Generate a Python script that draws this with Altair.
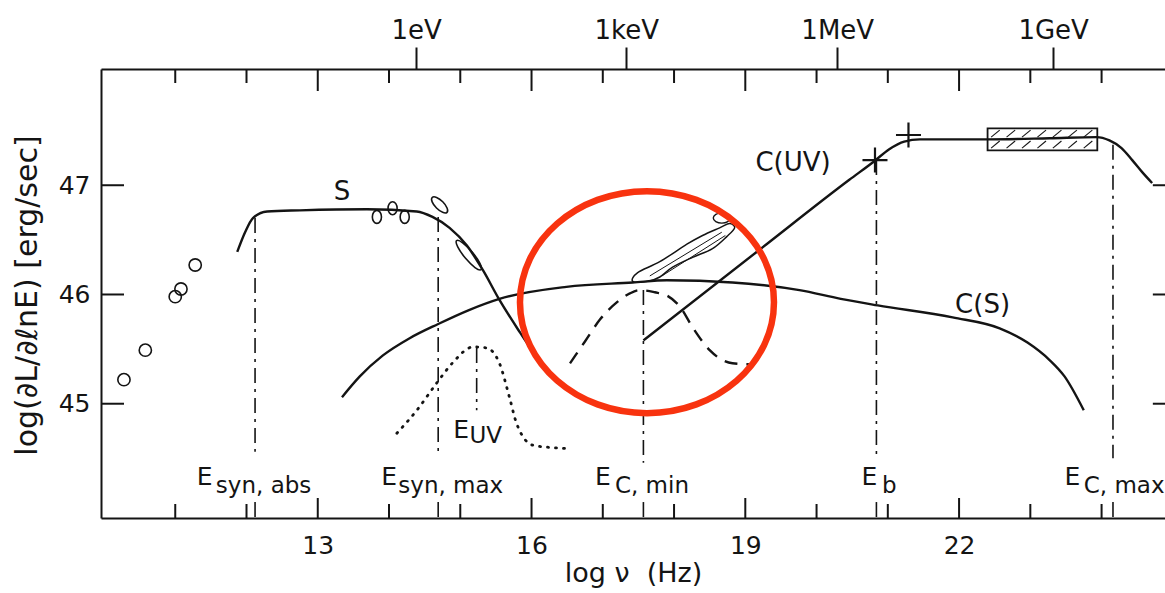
import altair as alt
import numpy as np
import pandas as pd

FONT = "DejaVu Sans"
INK = "#141414"
RED = "#f8330f"

# ---------------- data ----------------
X_DOMAIN = [9.958, 24.89]          # log nu (Hz)
Y_DOMAIN = [43.954, 48.064]        # log(dL/dlnE)

BOTTOM_LABELS = [13, 16, 19, 22]
MINOR_TICKS = [11, 12, 14, 15, 17, 18, 20, 21, 23, 24]
Y_LABELS = [45, 46, 47]
ENERGY_POS = [14.38, 17.33, 20.29, 23.32]
ENERGY_TXT = ["1eV", "1keV", "1MeV", "1GeV"]
RIGHT_EDGE = 25

# synchrotron component S
S_X = [11.87, 11.98, 12.09, 12.29, 12.75, 13.69, 14.39, 14.61, 14.85, 15.09, 15.32, 15.55, 15.84, 16.16]
S_Y = [46.39, 46.57, 46.70, 46.76, 46.77, 46.78, 46.76, 46.71, 46.61, 46.45, 46.22, 45.95, 45.65, 45.34]

# Compton of synchrotron C(S)
CS_X = [13.34, 13.59, 13.91, 14.29, 14.69, 15.13, 15.55, 16.49, 17.42, 17.90, 18.82, 19.76,
        20.34, 20.86, 21.91, 22.57, 22.96, 23.27, 23.48, 23.75]
CS_Y = [45.06, 45.25, 45.44, 45.60, 45.73, 45.86, 45.96, 46.07, 46.11, 46.13, 46.11, 46.04,
        45.96, 45.90, 45.79, 45.69, 45.56, 45.40, 45.25, 44.94]

# Compton of UV C(UV)
CUV_X = [17.57, 19.20, 20.46, 20.81, 21.02, 21.23, 21.45, 21.87, 22.40, 23.27, 23.93, 24.11,
         24.28, 24.43, 24.57, 24.71]
CUV_Y = [45.58, 46.41, 47.05, 47.22, 47.33, 47.40, 47.42, 47.42, 47.42, 47.43, 47.44, 47.41,
         47.34, 47.23, 47.12, 47.02]

# dotted UV bump
EUV_X = [14.11, 14.39, 14.67, 14.90, 15.18, 15.37, 15.55, 15.69, 15.79, 16.02, 16.26, 16.49]
EUV_Y = [44.73, 44.94, 45.19, 45.38, 45.52, 45.51, 45.37, 45.06, 44.82, 44.62, 44.60, 44.59]

# dashed bump near E_C,min
DASH_X = [16.54, 16.75, 16.96, 17.20, 17.38, 17.52, 17.73, 17.90, 18.08, 18.26, 18.50, 18.82, 19.09]
DASH_Y = [45.37, 45.57, 45.77, 45.93, 46.01, 46.04, 46.02, 45.99, 45.89, 45.70, 45.49, 45.37, 45.36]

# observed data blobs
RADIO_X = [10.28, 10.58, 11.00, 11.08, 11.28]
RADIO_Y = [45.22, 45.49, 45.98, 46.05, 46.27]
OPT_X = [13.83, 14.05, 14.22]
OPT_Y = [46.71, 46.79, 46.71]
TILT_X = [14.71]
TILT_Y = [46.82]
UVB_X = [15.12]
UVB_Y = [46.36]
XSMALL_X = [18.67]
XSMALL_Y = [46.70]

# X-ray bow-tie outline and its inner hatch
XRAY_X = [17.42, 17.49, 17.80, 18.18, 18.40, 18.64, 18.78, 18.85, 18.74, 18.54, 18.26, 17.98, 17.80, 17.63]
XRAY_Y = [46.12, 46.20, 46.30, 46.46, 46.54, 46.61, 46.65, 46.61, 46.53, 46.42, 46.34, 46.25, 46.16, 46.12]
XRAY_IN_X = [17.66, 17.83]
XRAY_IN_X2 = [18.67, 18.72]
XRAY_IN_Y = [46.17, 46.17]
XRAY_IN_Y2 = [46.57, 46.54]

# gamma-ray points and box
CROSS_X = [20.82, 21.29]
CROSS_Y = [47.23, 47.46]
BOX_X = [22.40, 23.94]
BOX_Y = [47.32, 47.52]

# characteristic energies (dash-dot markers)
MARK_X = [12.12, 14.69, 15.23, 17.57, 20.84, 24.16]
MARK_TOP = [46.70, 46.71, 45.51, 46.04, 47.23, 47.37]
MARK_BOT = [44.56, 44.53, 44.94, 44.46, 44.51, 44.50]
STUB_X = [12.12, 14.69, 17.57, 20.84, 24.16]
STUB_TOP = [44.10, 44.10, 44.10, 44.10, 44.10]

E_X = [11.30, 13.89, 14.90, 16.89, 20.63, 23.48]
E_Y = [44.26, 44.26, 44.69, 44.26, 44.26, 44.26]
SUB_TXT = ["syn, abs", "syn, max", "UV", "C, min", "b", "C, max"]
SUB_X = [11.57, 14.13, 15.13, 17.17, 20.92, 23.75]
SUB_Y = [44.18, 44.18, 44.64, 44.18, 44.18, 44.18]

CURVE_TXT = ["S", "C(UV)", "C(S)"]
CURVE_TX = [13.34, 19.67, 22.33]
CURVE_TY = [46.94, 47.20, 45.90]

RING_X = [17.62]
RING_Y = [45.93]

X_TITLE = "log \u03bd\u00a0\u00a0(Hz)"
Y_TITLE = "log(\u2202L/\u2202\u2113nE) [erg/sec]"

# ---------------- helpers ----------------
xsc = alt.Scale(domain=X_DOMAIN, nice=False, zero=False)
ysc = alt.Scale(domain=Y_DOMAIN, nice=False, zero=False)


def X(axis=None):
    return alt.X("x:Q", scale=xsc, axis=axis)


def Y(axis=None):
    return alt.Y("y:Q", scale=ysc, axis=axis)


def ellipse_path(b):
    k = 0.5523
    return (f"M-1,0C-1,{-k*b:.3f},{-k:.3f},{-b:.3f},0,{-b:.3f}"
            f"C{k:.3f},{-b:.3f},1,{-k*b:.3f},1,0"
            f"C1,{k*b:.3f},{k:.3f},{b:.3f},0,{b:.3f}"
            f"C{-k:.3f},{b:.3f},-1,{k*b:.3f},-1,0Z")


def frame(xs, ys, **extra):
    d = {"x": list(xs), "y": list(ys), "i": list(range(len(xs)))}
    d.update({k: list(v) for k, v in extra.items()})
    return pd.DataFrame(d)


def curve(xs, ys, xaxis=None, yaxis=None, **mark):
    style = dict(color=INK, strokeWidth=2.4, interpolate="monotone")
    style.update(mark)
    return alt.Chart(frame(xs, ys)).mark_line(**style).encode(
        x=X(xaxis), y=Y(yaxis), order=alt.Order("i:Q"))


def blobs(xs, ys, shape, size, angle=0, color=INK, width=1.6):
    return alt.Chart(frame(xs, ys)).mark_point(
        shape=shape, size=size, angle=angle, filled=False, stroke=color,
        strokeWidth=width, opacity=1).encode(x=X(), y=Y())


def ticks(xs, ys, orient, size, xoff=0, yoff=0):
    return alt.Chart(frame(xs, ys)).mark_tick(
        orient=orient, size=size, thickness=2, color=INK, opacity=1,
        xOffset=xoff, yOffset=yoff).encode(x=X(), y=Y())


def texts(xs, ys, labels, size, align="left", baseline="alphabetic"):
    return alt.Chart(frame(xs, ys, t=labels)).mark_text(
        font=FONT, fontSize=size, color=INK, align=align, baseline=baseline).encode(
        x=X(), y=Y(), text="t:N")


# ---------------- axes ----------------
bottom_axis = alt.Axis(
    orient="bottom", values=BOTTOM_LABELS, format="d", ticks=False, tickSize=0,
    domain=True, domainColor=INK, domainWidth=2, grid=False,
    labelFont=FONT, labelFontSize=25, labelColor=INK, labelPadding=15,
    labelOverlap=False, labelFlush=False,
    title=X_TITLE, titleFont=FONT, titleFontSize=27, titleFontWeight="normal",
    titleColor=INK, titleBaseline="alphabetic", titleY=63)

left_axis = alt.Axis(
    orient="left", values=Y_LABELS, format="d", ticks=False, tickSize=0,
    domain=True, domainColor=INK, domainWidth=2, grid=False,
    labelFont=FONT, labelFontSize=25, labelColor=INK, labelPadding=11,
    title=Y_TITLE, titleFont=FONT, titleFontSize=30, titleFontWeight="normal",
    titleColor=INK, titleAngle=270, titleBaseline="alphabetic", titleX=-65, titleY=226)

energy_expr = " : ".join(
    f"abs(datum.value - {p}) < 0.01 ? '{t}'" for p, t in zip(ENERGY_POS, ENERGY_TXT)) + " : ''"

top_axis = alt.Axis(
    orient="top", values=ENERGY_POS, labelExpr=energy_expr, ticks=True, tickSize=22,
    tickWidth=2, tickColor=INK, domain=True, domainColor=INK, domainWidth=2, grid=False,
    labelFont=FONT, labelFontSize=26, labelColor=INK, labelPadding=4,
    labelOverlap=False, labelFlush=False, title=None)

# ---------------- layers ----------------
layers = []
layers.append(curve(S_X, S_Y, xaxis=bottom_axis, yaxis=left_axis))
layers.append(curve(CS_X, CS_Y, xaxis=top_axis))
layers.append(curve(CUV_X, CUV_Y))
layers.append(curve(EUV_X, EUV_Y, strokeDash=[1, 7], strokeCap="round", strokeWidth=2.8))
layers.append(curve(DASH_X, DASH_Y, strokeDash=[13, 9]))

# dash-dot markers
markers = frame(MARK_X, MARK_TOP, y2=MARK_BOT)
stubs = frame(STUB_X, STUB_TOP, y2=[Y_DOMAIN[0]] * len(STUB_X))
for df in (markers, stubs):
    layers.append(alt.Chart(df).mark_rule(
        color=INK, strokeWidth=1.6, strokeDash=[15, 6, 3, 6]).encode(
        x=X(), y=Y(), y2="y2:Q"))

# axis ticks drawn inward
Y0, Y1 = Y_DOMAIN
layers.append(ticks(BOTTOM_LABELS, [Y0] * 4, "vertical", 20, yoff=-10))
layers.append(ticks(MINOR_TICKS, [Y0] * len(MINOR_TICKS), "vertical", 14, yoff=-7))
layers.append(ticks(BOTTOM_LABELS, [Y1] * 4, "vertical", 22, yoff=11))
layers.append(ticks(MINOR_TICKS, [Y1] * len(MINOR_TICKS), "vertical", 14, yoff=7))
layers.append(ticks([X_DOMAIN[0]] * 3, Y_LABELS, "horizontal", 23, xoff=11.5))
layers.append(ticks([RIGHT_EDGE] * 3, Y_LABELS, "horizontal", 20, xoff=-10))

# data blobs
layers.append(blobs(RADIO_X, RADIO_Y, "circle", 150))
layers.append(blobs(OPT_X, OPT_Y, ellipse_path(0.7), 169, angle=90))
layers.append(blobs(TILT_X, TILT_Y, ellipse_path(0.42), 441, angle=45))
layers.append(blobs(UVB_X, UVB_Y, ellipse_path(0.24), 1444, angle=50))
layers.append(blobs(XSMALL_X, XSMALL_Y, ellipse_path(0.6), 289, angle=0, width=1.4))
layers.append(curve(XRAY_X, XRAY_Y, interpolate="cardinal-closed", strokeWidth=1.5))
layers.append(alt.Chart(pd.DataFrame({"x": XRAY_IN_X, "x2": XRAY_IN_X2,
                                      "y": XRAY_IN_Y, "y2": XRAY_IN_Y2})).mark_rule(
    color=INK, strokeWidth=1).encode(x=X(), x2="x2:Q", y=Y(), y2="y2:Q"))

# gamma-ray crosses
layers.append(blobs(CROSS_X, CROSS_Y, "M-1,0L1,0M0,-1L0,1", 625, width=2.2))

# hatched box
layers.append(alt.Chart(pd.DataFrame({"x": [BOX_X[0]], "x2": [BOX_X[1]],
                                      "y": [BOX_Y[0]], "y2": [BOX_Y[1]]})).mark_rect(
    fillOpacity=0, stroke=INK, strokeWidth=1.8).encode(x=X(), x2="x2:Q", y=Y(), y2="y2:Q"))
h_start = np.linspace(BOX_X[0] + 0.05, BOX_X[1] - 0.19, 7)
h_dx = 0.12
h_rows = [(BOX_Y[0] + 0.02, BOX_Y[0] + 0.085), (BOX_Y[0] + 0.12, BOX_Y[0] + 0.185)]
hatch = pd.DataFrame([
    {"x": s, "x2": s + h_dx, "y": r0, "y2": r1} for (r0, r1) in h_rows for s in h_start])
layers.append(alt.Chart(hatch).mark_rule(color=INK, strokeWidth=1.1).encode(
    x=X(), x2="x2:Q", y=Y(), y2="y2:Q"))

# text annotations
layers.append(texts(E_X, E_Y, ["E"] * len(E_X), 25))
layers.append(texts(SUB_X, SUB_Y, SUB_TXT, 23))
layers.append(texts(CURVE_TX, CURVE_TY, CURVE_TXT, 26, align="center", baseline="middle"))

# red highlight ring
layers.append(blobs(RING_X, RING_Y, ellipse_path(0.874), 64516, color=RED, width=6.5))

chart = alt.layer(*layers).resolve_axis(x="independent", y="independent").properties(
    width=1064, height=449,
    autosize=alt.AutoSizeParams(type="none"),
    padding={"left": 101, "top": 69, "right": 0, "bottom": 75},
    background="white",
).configure_view(stroke=None).configure_axis(
    labelFont=FONT, titleFont=FONT, grid=False)

chart.save("out.html", embed_options={"renderer": "svg", "actions": False})
